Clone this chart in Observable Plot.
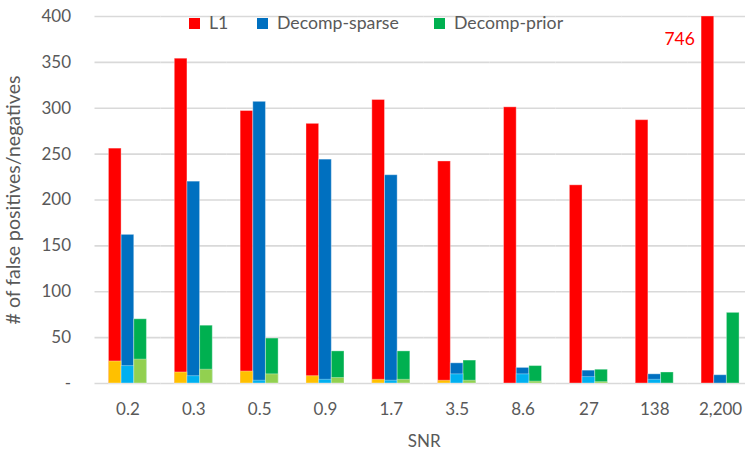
<!DOCTYPE html>
<html>
<head>
<meta charset="utf-8">
<script src="https://cdn.jsdelivr.net/npm/d3@7"></script>
<script src="https://cdn.jsdelivr.net/npm/@observablehq/plot@0.6"></script>
<style>
  html, body { margin: 0; padding: 0; background: #fff; }
  #wrap { position: relative; width: 745px; height: 450px; overflow: hidden; font-family: Lato, sans-serif; }
  .legend { position: absolute; top: 13px; left: 0; font-size: 17.7px; color: #595959; }
  .item { position: absolute; white-space: nowrap; line-height: 20px; }
  .sw { display: inline-block; width: 11px; height: 11px; vertical-align: middle; margin-right: 9px; position: relative; top: -1px; }
</style>
</head>
<body>
<div id="wrap"></div>
<script>
// ---- data ----
const snr = ["0.2", "0.3", "0.5", "0.9", "1.7", "3.5", "8.6", "27", "138", "2,200"];
const series = ["L1", "Decomp-sparse", "Decomp-prior"];
const l1Total = [256, 354, 297, 283, 309, 242, 301, 216, 287, 746];
const l1Lower = [24, 12, 13, 8, 4, 3, 0, 0, 0, 0];
const sparseTotal = [162, 220, 307, 244, 227, 22, 17, 14, 10, 9];
const sparseLower = [19, 8, 3, 4, 3, 10, 10, 7, 4, 0];
const priorTotal = [70, 63, 49, 35, 35, 25, 19, 15, 12, 77];
const priorLower = [26, 15, 10, 6, 4, 3, 2, 1.5, 0, 0];
const yTicks = [0, 50, 100, 150, 200, 250, 300, 350, 400];

// ---- styles ----
const mainColors = ["#FF0000", "#0070C0", "#00B050"];
const lowerColors = ["#FFC000", "#00B0F0", "#92D050"];

const totals = [l1Total, sparseTotal, priorTotal];
const lowers = [l1Lower, sparseLower, priorLower];
const rows = snr.flatMap((s, i) => series.map((k, j) => ({
  snr: s, series: k, total: totals[j][i], lower: lowers[j][i],
  main: mainColors[j], light: lowerColors[j]
})));

const chart = Plot.plot({
  width: 745,
  height: 450,
  marginTop: 16,
  marginBottom: 67,
  marginLeft: 95,
  marginRight: 0,
  style: { fontFamily: "Lato, sans-serif", fontSize: "17px", color: "#595959", background: "transparent" },
  fx: { domain: snr, range: [94.5, 753], paddingInner: 0, paddingOuter: 0, round: false },
  x: { domain: series, paddingInner: 0, paddingOuter: 1.1, round: false, axis: null },
  y: { domain: [0, 400], clamp: true },
  color: { type: "identity" },
  marks: [
    Plot.gridY(yTicks, { stroke: "#d9d9d9", strokeOpacity: 1, strokeWidth: 1.6 }),
    Plot.axisY({ ticks: yTicks, tickFormat: d => d === 0 ? "-" : d3.format(",")(d), tickSize: 0, tickPadding: 24, label: null }),
    Plot.axisY({ ticks: [], tickSize: 0, label: "# of false positives/negatives", labelAnchor: "center", labelArrow: "none",
      labelOffset: 89, fontSize: 19.5 }),
    Plot.axisFx({ anchor: "bottom", tickSize: 0, tickPadding: 19, label: "SNR", labelAnchor: "center", labelArrow: "none", labelOffset: 63 }),
    Plot.barY(rows, { fx: "snr", x: "series", y: "total", fill: "main", stroke: "#ffffff", strokeOpacity: 0.35, strokeWidth: 1 }),
    Plot.barY(rows, { fx: "snr", x: "series", y: "lower", fill: "light", stroke: "#ffffff", strokeOpacity: 0.35, strokeWidth: 1 }),
    Plot.text(rows.filter(d => d.total > 400), { fx: "snr", x: "series", y: "total", text: d => String(d.total),
      fill: "#FF0000", textAnchor: "end", dx: -13, dy: 23, fontSize: 17.5 })
  ]
});

const wrap = document.getElementById("wrap");
wrap.appendChild(chart);

const legend = document.createElement("div");
legend.className = "legend";
const lefts = [189, 257, 434];
series.forEach((s, j) => {
  const it = document.createElement("div");
  it.className = "item";
  it.style.left = lefts[j] + "px";
  it.innerHTML = `<span class="sw" style="background:${mainColors[j]}"></span>${s}`;
  legend.appendChild(it);
});
wrap.appendChild(legend);
</script>
</body>
</html>
